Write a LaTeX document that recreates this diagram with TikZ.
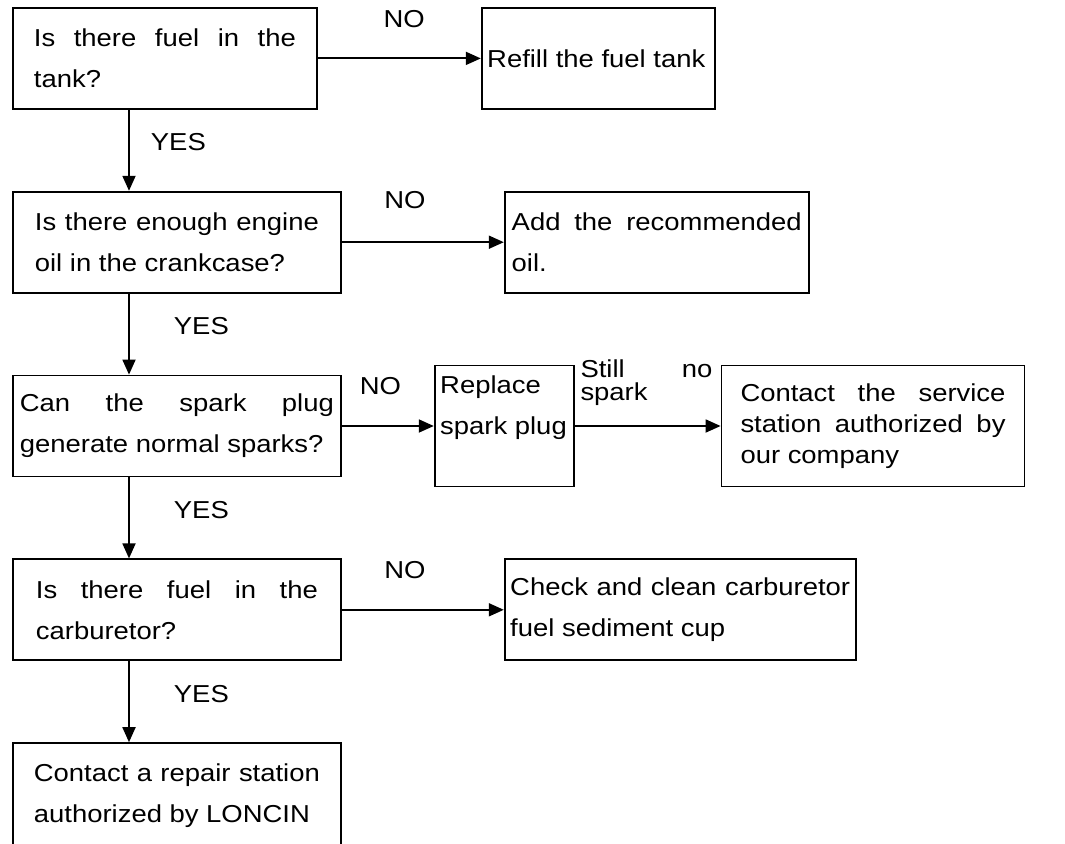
\documentclass[tikz,border=0pt]{standalone}
\usepackage{fontspec}
\setmainfont{Liberation Sans}[FakeStretch=1.12]
\usetikzlibrary{positioning, arrows.meta}
\hyphenpenalty=10000
\exhyphenpenalty=10000
\tolerance=10000
\hbadness=10000

\begin{document}
\begin{tikzpicture}[x=1pt, y=1pt,
  box/.style={draw, line width=1.8pt, align=justify, inner ysep=0pt, minimum height=101pt, font=\fontsize{24.5}{41}\selectfont},
  arr/.style={-{Triangle[length=15pt, width=13pt]}, line width=1.8pt},
  lbl/.style={inner sep=0pt, font=\fontsize{24.5}{28}\selectfont}]
  \path[use as bounding box, clip] (0,0) rectangle (1065,-843);
  \coordinate (spine) at (129,0);
  % questions, left column
  \node[box, text width=262pt, inner xsep=21pt, anchor=north west] (q1) at (12,-7) {Is there fuel in the tank?};
  \node[box, text width=284pt, inner xsep=22pt, below=81pt of q1.south west, anchor=north west] (q2) {Is there enough engine oil in the crankcase?};
  \node[box, text width=314pt, inner xsep=7pt, below=81pt of q2.south west, anchor=north west] (q3) {Can the spark plug generate normal sparks?};
  \node[box, text width=282pt, inner xsep=23pt, below=81pt of q3.south west, anchor=north west] (q4) {Is there fuel in the carburetor?};
  \node[box, text width=286pt, inner xsep=21pt, minimum height=142pt, below=81pt of q4.south west, anchor=north west] (q5) {Contact a repair station authorized by LONCIN\\\mbox{}};
  % remedies
  \node[box, text width=222pt, inner xsep=5.5pt, right=163pt of q1] (refill) {Refill the fuel tank};
  \node[box, text width=290pt, inner xsep=7pt, right=162pt of q2] (oil) {Add the recommended oil.};
  \node[box, text width=128pt, inner xsep=5.5pt, minimum height=121pt, right=92pt of q3] (plug) {Replace spark plug\\\mbox{}};
  \node[box, text width=265pt, inner xsep=19pt, minimum height=121pt, font=\fontsize{24.5}{31}\selectfont, right=146pt of plug] (dealer) {Contact the service station authorized by our company};
  \node[box, text width=340pt, inner xsep=5.5pt, right=162pt of q4] (cup) {Check and clean carburetor fuel sediment cup};
  % yes branch
  \draw[arr] (q1.south -| spine) -- node[lbl, midway, right=21pt, yshift=8pt] {YES} (q2.north -| spine);
  \draw[arr] (q2.south -| spine) -- node[lbl, midway, right=44pt, yshift=8pt] {YES} (q3.north -| spine);
  \draw[arr] (q3.south -| spine) -- node[lbl, midway, right=44pt, yshift=8pt] {YES} (q4.north -| spine);
  \draw[arr] (q4.south -| spine) -- node[lbl, midway, right=44pt, yshift=8pt] {YES} (q5.north -| spine);
  % no branch
  \draw[arr] (q1) -- node[lbl, pos=0.53, above=30pt] {NO} (refill);
  \draw[arr] (q2) -- node[lbl, pos=0.39, above=33pt] {NO} (oil);
  \draw[arr] (q3) -- node[lbl, pos=0.42, above=30pt] {NO} (plug);
  \draw[arr] (q4) -- node[lbl, pos=0.39, above=30pt] {NO} (cup);
  \draw[arr] (plug) -- node[pos=0, anchor=south west, text width=132pt, align=justify, inner xsep=5pt, inner ysep=0pt, yshift=20pt, font=\fontsize{24.5}{23}\selectfont] {Still no spark} (dealer);
\end{tikzpicture}
\end{document}
